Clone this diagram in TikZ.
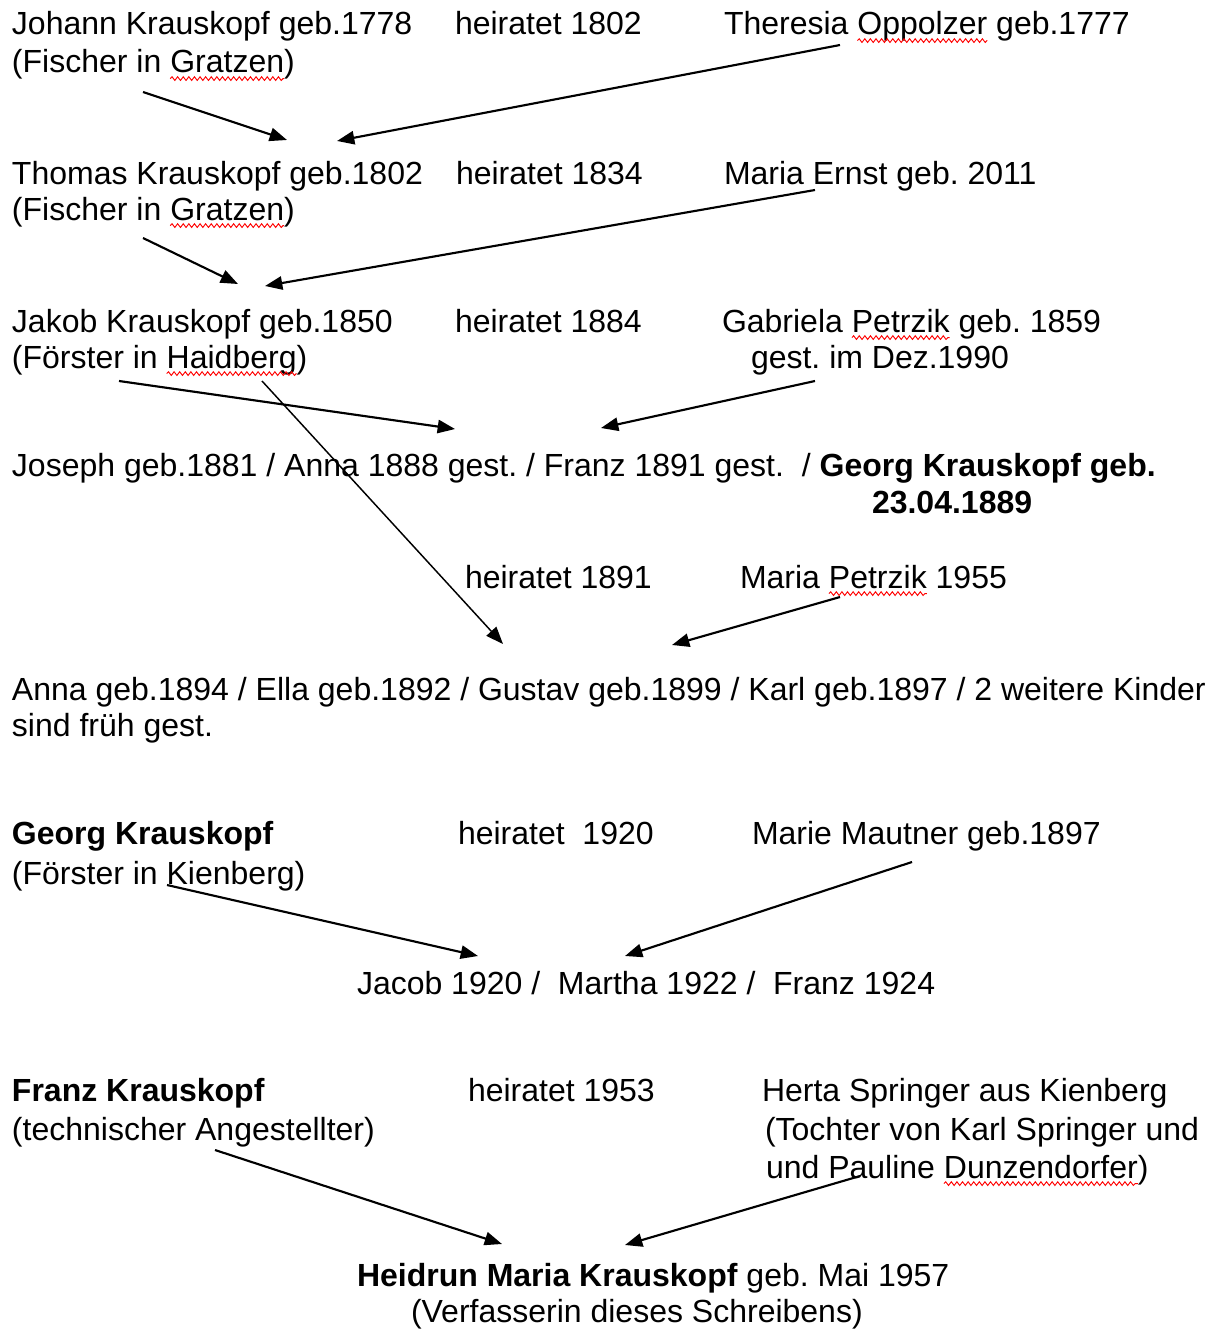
\documentclass[tikz,border=0pt]{standalone}
\usepackage{fontspec}
\setmainfont{Liberation Sans}
\usetikzlibrary{arrows.meta,decorations.pathmorphing}
\frenchspacing
\tikzset{
  txt/.style={anchor=base west, inner sep=0pt, outer sep=0pt, font=\fontsize{24}{28}\selectfont\frenchspacing},
  bt/.style={txt, font=\fontsize{24}{28}\selectfont\frenchspacing\bfseries},
  link/.style={line width=1.6pt, -{Triangle[length=13pt,width=10pt]}},
  thinlink/.style={line width=1.1pt, -{Triangle[length=13pt,width=10pt]}},
  wavy/.style={red, line width=0.7pt, decorate, decoration={snake, amplitude=1.4pt, segment length=4.2pt}},
  nextword/.style={txt, xshift=6.7pt},
}
\newcommand{\spellmark}[1]{\draw[wavy] ([yshift=-4.2pt]#1.base west) -- ([yshift=-4.2pt]#1.base east);}
\begin{document}
\begin{tikzpicture}[x=0.75pt,y=-0.75pt]
\useasboundingbox (0,0) rectangle (1222,1331);

% ---------- generation 1
\node[txt] (johann) at (12,35) {Johann Krauskopf geb.1778};
\node[txt] (h1802) at (455,35) {heiratet 1802};
\node[txt] (ther) at (724,35) {Theresia};
\node[nextword] (therw) at (ther.base east) {Oppolzer};
\node[nextword] (ther2) at (therw.base east) {geb.1777};
\node[txt] (johannjob) at (12,73) {(Fischer in};
\node[nextword] (johannw) at (johannjob.base east) {Gratzen};
\node[txt] (johannend) at (johannw.base east) {)};

% ---------- generation 2
\node[txt] (thomas) at (12,184) {Thomas Krauskopf geb.1802};
\node[txt] (h1834) at (456,184) {heiratet 1834};
\node[txt] (ernst) at (724,184) {Maria Ernst geb. 2011};
\node[txt] (thomasjob) at (12,220) {(Fischer in};
\node[nextword] (thomasw) at (thomasjob.base east) {Gratzen};
\node[txt] (thomasend) at (thomasw.base east) {)};

% ---------- generation 3
\node[txt] (jakob) at (12,332) {Jakob Krauskopf geb.1850};
\node[txt] (h1884) at (455,332) {heiratet 1884};
\node[txt] (gab) at (722,332) {Gabriela};
\node[nextword] (gabw) at (gab.base east) {Petrzik};
\node[nextword] (gab2) at (gabw.base east) {geb. 1859};
\node[txt] (gabgest) at (751,368) {gest. im Dez.1990};
\node[txt] (jakobjob) at (12,368) {(Förster in};
\node[nextword] (jakobw) at (jakobjob.base east) {Haidberg};
\node[txt] (jakobend) at (jakobw.base east) {)};

% ---------- generation 4
\node[txt] (kids1) at (12,476) {Joseph geb.1881 / Anna 1888 gest. / Franz 1891 gest.\ \ / \textbf{Georg Krauskopf geb.}};
\node[bt] (kids1b) at (872,513) {23.04.1889};
\node[txt] (h1891) at (465,588) {heiratet 1891};
\node[txt] (mp) at (740,588) {Maria};
\node[nextword] (mpw) at (mp.base east) {Petrzik};
\node[nextword] (mp2) at (mpw.base east) {1955};

% ---------- generation 5
\node[txt] (kids2) at (12,700) {Anna geb.1894 / Ella geb.1892 / Gustav geb.1899 / Karl geb.1897 / 2 weitere Kinder};
\node[txt] (kids2b) at (12,736) {sind früh gest.};

% ---------- generation 6
\node[bt] (georg) at (12,844) {Georg Krauskopf};
\node[txt] (h1920) at (458,844) {heiratet\ \ 1920};
\node[txt] (marie) at (752,844) {Marie Mautner geb.1897};
\node[txt] (georgjob) at (12,884) {(Förster in Kienberg)};
\node[txt] (kids3) at (357,994) {Jacob 1920 /\ \ Martha 1922 /\ \ Franz 1924};

% ---------- generation 7
\node[bt] (franz) at (12,1101) {Franz Krauskopf};
\node[txt] (h1953) at (468,1101) {heiratet 1953};
\node[txt] (herta) at (762,1101) {Herta Springer aus Kienberg};
\node[txt] (franzjob) at (12,1140) {(technischer Angestellter)};
\node[txt] (herta2) at (765,1140) {(Tochter von Karl Springer und};
\node[txt] (herta3) at (766,1178) {und Pauline};
\node[nextword] (herta3w) at (herta3.base east) {Dunzendorfer};
\node[txt] (herta3end) at (herta3w.base east) {)};

% ---------- generation 8
\node[txt] (heidrun) at (357,1286) {\textbf{Heidrun Maria Krauskopf} geb. Mai 1957};
\node[txt] (heidrun2) at (411,1322) {(Verfasserin dieses Schreibens)};

% ---------- spelling marks
\spellmark{therw}
\spellmark{johannw}
\spellmark{thomasw}
\spellmark{gabw}
\spellmark{jakobw}
\spellmark{mpw}
\spellmark{herta3w}

% ---------- connector end points
\coordinate (a1s) at (143,92);   \coordinate (a1e) at (287,140);
\coordinate (a2s) at (840,45);   \coordinate (a2e) at (337,141);
\coordinate (a3s) at (143,238);  \coordinate (a3e) at (238,284);
\coordinate (a4s) at (815,190);  \coordinate (a4e) at (265,286);
\coordinate (a5s) at (119,381);  \coordinate (a5e) at (455,429);
\coordinate (a6s) at (815,381);  \coordinate (a6e) at (601,428);
\coordinate (a7s) at (262,381);  \coordinate (a7e) at (503,644);
\coordinate (a8s) at (840,597);  \coordinate (a8e) at (672,645);
\coordinate (a9s) at (167,885);  \coordinate (a9e) at (478,956);
\coordinate (a10s) at (912,862); \coordinate (a10e) at (625,956);
\coordinate (a11s) at (215,1150);\coordinate (a11e) at (502,1244);
\coordinate (a12s) at (860,1176);\coordinate (a12e) at (625,1245);

% ---------- connectors
\draw[link] (a1s) -- (a1e);
\draw[link] (a2s) -- (a2e);
\draw[link] (a3s) -- (a3e);
\draw[link] (a4s) -- (a4e);
\draw[link] (a5s) -- (a5e);
\draw[link] (a6s) -- (a6e);
\draw[thinlink] (a7s) -- (a7e);
\draw[link] (a8s) -- (a8e);
\draw[link] (a9s) -- (a9e);
\draw[link] (a10s) -- (a10e);
\draw[link] (a11s) -- (a11e);
\draw[link] (a12s) -- (a12e);
\end{tikzpicture}
\end{document}
